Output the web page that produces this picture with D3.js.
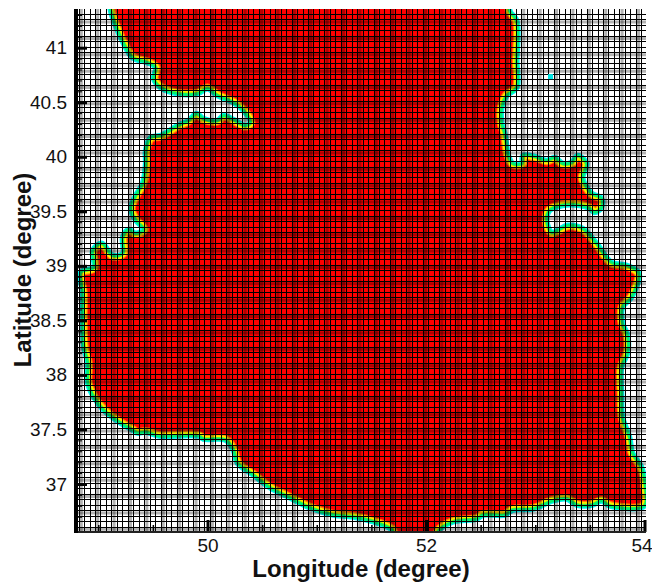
<!DOCTYPE html>
<html>

<head>
    <title>Caspian grid</title>
    <script src="https://d3js.org/d3.v7.min.js"></script>
    <style>
        body { margin: 0; background: #fff; }
        text { font-family: "Liberation Sans", sans-serif; fill: #111; }
    </style>
</head>

<body>
    <svg width="652" height="582" id="mainSvg"></svg>
    <script>
        // coastline of the wet region
        const coastLon = [49.114, 49.114, 49.160, 49.233, 49.315, 49.452, 49.525, 49.507, 49.571, 49.726,
            49.909, 50.000, 50.091, 50.237, 50.329, 50.393, 50.347, 50.237, 50.146, 50.091,
            49.963, 49.900, 49.826, 49.726, 49.571, 49.479, 49.434, 49.434, 49.406, 49.343,
            49.297, 49.343, 49.416, 49.343, 49.279, 49.224, 49.224, 49.132, 49.032, 48.950,
            48.959, 48.840, 48.858, 48.858, 48.868, 48.904, 48.904, 48.959, 49.050, 49.206,
            49.315, 49.361, 49.434, 49.553, 49.918, 49.963, 50.164, 50.237, 50.274, 50.420,
            50.575, 50.758, 50.941, 51.151, 51.333, 51.552, 51.689, 51.717, 52.110, 52.110,
            52.246, 52.466, 52.520, 52.721, 52.794, 52.977, 53.160, 53.288, 53.379, 53.525,
            53.607, 53.680, 54.000, 54.009, 53.972, 53.890, 53.863, 53.799, 53.790, 53.790,
            53.845, 53.845, 53.799, 53.799, 53.881, 53.954, 53.936, 53.835, 53.698, 53.561,
            53.434, 53.297, 53.205, 53.151, 53.105, 53.132, 53.251, 53.406, 53.498, 53.543,
            53.607, 53.607, 53.516, 53.452, 53.434, 53.470, 53.388, 53.333, 53.251, 53.178,
            53.105, 52.995, 52.886, 52.877, 52.794, 52.749, 52.740, 52.721, 52.694, 52.694,
            52.740, 52.831, 52.831, 52.831, 52.767, 52.767];
        const coastLat = [41.476, 41.339, 41.201, 41.037, 40.908, 40.863, 40.817, 40.716, 40.634, 40.579,
            40.579, 40.625, 40.561, 40.497, 40.423, 40.314, 40.286, 40.341, 40.378, 40.332,
            40.350, 40.396, 40.332, 40.286, 40.195, 40.176, 40.057, 39.938, 39.755, 39.645,
            39.526, 39.417, 39.334, 39.298, 39.334, 39.261, 39.114, 39.096, 39.206, 39.142,
            38.986, 38.941, 38.748, 38.529, 38.254, 38.108, 37.925, 37.796, 37.677, 37.558,
            37.494, 37.467, 37.476, 37.440, 37.440, 37.412, 37.403, 37.311, 37.192, 37.082,
            36.964, 36.872, 36.780, 36.716, 36.698, 36.643, 36.579, 36.488, 36.488, 36.561,
            36.652, 36.680, 36.716, 36.716, 36.762, 36.771, 36.845, 36.863, 36.808, 36.808,
            36.845, 36.799, 36.799, 36.973, 37.156, 37.284, 37.430, 37.613, 37.833, 38.071,
            38.199, 38.364, 38.474, 38.620, 38.712, 38.913, 38.950, 39.005, 39.032, 39.206,
            39.343, 39.371, 39.325, 39.307, 39.417, 39.508, 39.554, 39.554, 39.526, 39.490,
            39.536, 39.618, 39.664, 39.755, 39.810, 39.938, 40.011, 39.947, 39.938, 39.993,
            39.966, 40.002, 40.011, 39.938, 39.938, 40.030, 40.085, 40.213, 40.304, 40.451,
            40.561, 40.634, 40.881, 41.247, 41.339, 41.476];

        // the lone wet cell out in the land
        const spotLon = [53.14];
        const spotLat = [40.735];

        const xMajor = [50, 52, 54];
        const xMinor = [49, 49.5, 50.5, 51, 51.5, 52.5, 53, 53.5];
        const yMajor = [37, 37.5, 38, 38.5, 39, 39.5, 40, 40.5, 41];
        const yMinor = d3.range(367, 414).map(d => d / 10).filter(d => !yMajor.includes(d));

        // mesh spacing as it shows after the image was scaled down: sharp lines and a wider grey beat
        const gridStep = 0.05;
        const beatStep = gridStep * 3;

        const mainSvg = d3.select("#mainSvg");
        const plot = { left: 77, right: 646, top: 9, bottom: 532 };

        const x = d3.scaleLinear().domain([50, 54]).range([207.5, 644.5]);
        const y = d3.scaleLinear().domain([37, 41]).range([484, 47.7]);

        const defs = mainSvg.append("defs");
        defs.append("clipPath").attr("id", "plotClip")
            .append("rect")
            .attr("x", plot.left).attr("y", plot.top)
            .attr("width", plot.right - plot.left).attr("height", plot.bottom - plot.top);
        defs.append("filter").attr("id", "soft")
            .append("feGaussianBlur").attr("stdDeviation", 0.5);

        const body = mainSvg.append("g").attr("clip-path", "url(#plotClip)");

        const coast = d3.line().x(i => x(coastLon[i])).y(i => y(coastLat[i]))
            .curve(d3.curveCatmullRomClosed.alpha(0.5));
        const coastPath = coast(d3.range(coastLon.length));
        defs.append("clipPath").attr("id", "waterClip").append("path").attr("d", coastPath);

        // contour band: cyan and green lie outside the line, yellow and orange inside
        const field = body.append("g").attr("filter", "url(#soft)");
        field.append("path").attr("d", coastPath).attr("fill", "none")
            .attr("stroke", "#00f0f0").attr("stroke-width", 5.6);
        const water = field.append("g").attr("clip-path", "url(#waterClip)");
        water.append("path").attr("d", coastPath).attr("fill", "#ff0000");
        const inner = [["#ff8000", 10], ["#ffe800", 7.6], ["#90f000", 4.2]];
        water.selectAll("path.band")
            .data(inner).join("path")
            .attr("class", "band")
            .attr("d", coastPath)
            .attr("fill", "none")
            .attr("stroke", d => d[0])
            .attr("stroke-width", d => d[1]);
        field.append("path").attr("d", coastPath).attr("fill", "none")
            .attr("stroke", "#00f070").attr("stroke-width", 2.8);

        const snap = v => Math.round(v) + 0.5;

        const lonLines = d3.range(48.82, 54.01, gridStep);
        const latLines = d3.range(36.56, 41.36, gridStep);
        const lonBeats = d3.range(48.845, 54.01, beatStep);
        const latBeats = d3.range(36.585, 41.36, beatStep);

        body.selectAll("line.lonBeat")
            .data(lonBeats).join("line")
            .attr("class", "lonBeat")
            .attr("x1", d => x(d)).attr("x2", d => x(d))
            .attr("y1", plot.top).attr("y2", plot.bottom)
            .attr("stroke", "#000").attr("stroke-opacity", 0.3).attr("stroke-width", 3);
        body.selectAll("line.latBeat")
            .data(latBeats).join("line")
            .attr("class", "latBeat")
            .attr("y1", d => y(d)).attr("y2", d => y(d))
            .attr("x1", plot.left).attr("x2", plot.right)
            .attr("stroke", "#000").attr("stroke-opacity", 0.3).attr("stroke-width", 3);
        body.selectAll("line.lon")
            .data(lonLines).join("line")
            .attr("class", "lon")
            .attr("x1", d => snap(x(d))).attr("x2", d => snap(x(d)))
            .attr("y1", plot.top).attr("y2", plot.bottom)
            .attr("stroke", "#000").attr("stroke-width", 1);
        body.selectAll("line.lat")
            .data(latLines).join("line")
            .attr("class", "lat")
            .attr("y1", d => snap(y(d))).attr("y2", d => snap(y(d)))
            .attr("x1", plot.left).attr("x2", plot.right)
            .attr("stroke", "#000").attr("stroke-width", 1);

        body.selectAll("rect.spot")
            .data(spotLon).join("rect")
            .attr("class", "spot")
            .attr("x", d => x(d) - 2.5)
            .attr("y", (d, i) => y(spotLat[i]) - 2.5)
            .attr("width", 5).attr("height", 5)
            .attr("fill", "#00e8e8");

        // axes
        const axisBottomMajor = d3.axisBottom(x).tickValues(xMajor).tickSize(-12).tickPadding(0).tickFormat(d3.format("d"));
        const axisBottomMinor = d3.axisBottom(x).tickValues(xMinor).tickSize(-7).tickFormat("");
        const axisLeftMajor = d3.axisLeft(y).tickValues(yMajor).tickSize(-11).tickPadding(0).tickFormat(d => d);
        const axisLeftMinor = d3.axisLeft(y).tickValues(yMinor).tickSize(-6).tickFormat("");

        const gx = mainSvg.append("g").attr("transform", `translate(0,${plot.bottom})`);
        gx.append("g").call(axisBottomMinor).call(g => g.selectAll(".tick line").attr("stroke-width", 1.5));
        gx.append("g").call(axisBottomMajor).call(g => g.selectAll(".tick line").attr("stroke-width", 3));
        gx.selectAll("text").attr("font-size", 19).attr("y", 20).attr("dy", 0)
            .attr("dx", d => d === 54 ? -3 : 0)
            .attr("font-family", "Liberation Sans").attr("fill", "#111");
        gx.selectAll(".domain").remove();
        gx.append("line").attr("x1", plot.left - 2).attr("x2", plot.right).attr("stroke", "#222").attr("stroke-width", 2);

        const gy = mainSvg.append("g").attr("transform", `translate(${plot.left - 1},0)`);
        gy.append("g").call(axisLeftMinor).call(g => g.selectAll(".tick line").attr("stroke-width", 1));
        gy.append("g").call(axisLeftMajor).call(g => g.selectAll(".tick line").attr("stroke-width", 3));
        gy.selectAll("text").attr("font-size", 19).attr("x", -9).attr("dy", 6)
            .attr("font-family", "Liberation Sans").attr("fill", "#111");
        gy.selectAll(".domain").remove();
        gy.append("line").attr("y1", plot.top).attr("y2", plot.bottom + 1).attr("stroke", "#000").attr("stroke-width", 4);

        mainSvg.append("text")
            .attr("x", 361).attr("y", 577)
            .attr("text-anchor", "middle")
            .attr("font-size", 24).attr("font-weight", "bold")
            .text("Longitude (degree)");

        mainSvg.append("text")
            .attr("transform", "translate(31,270) rotate(-90)")
            .attr("text-anchor", "middle")
            .attr("font-size", 24).attr("font-weight", "bold")
            .text("Latitude (degree)");
    </script>
</body>

</html>
